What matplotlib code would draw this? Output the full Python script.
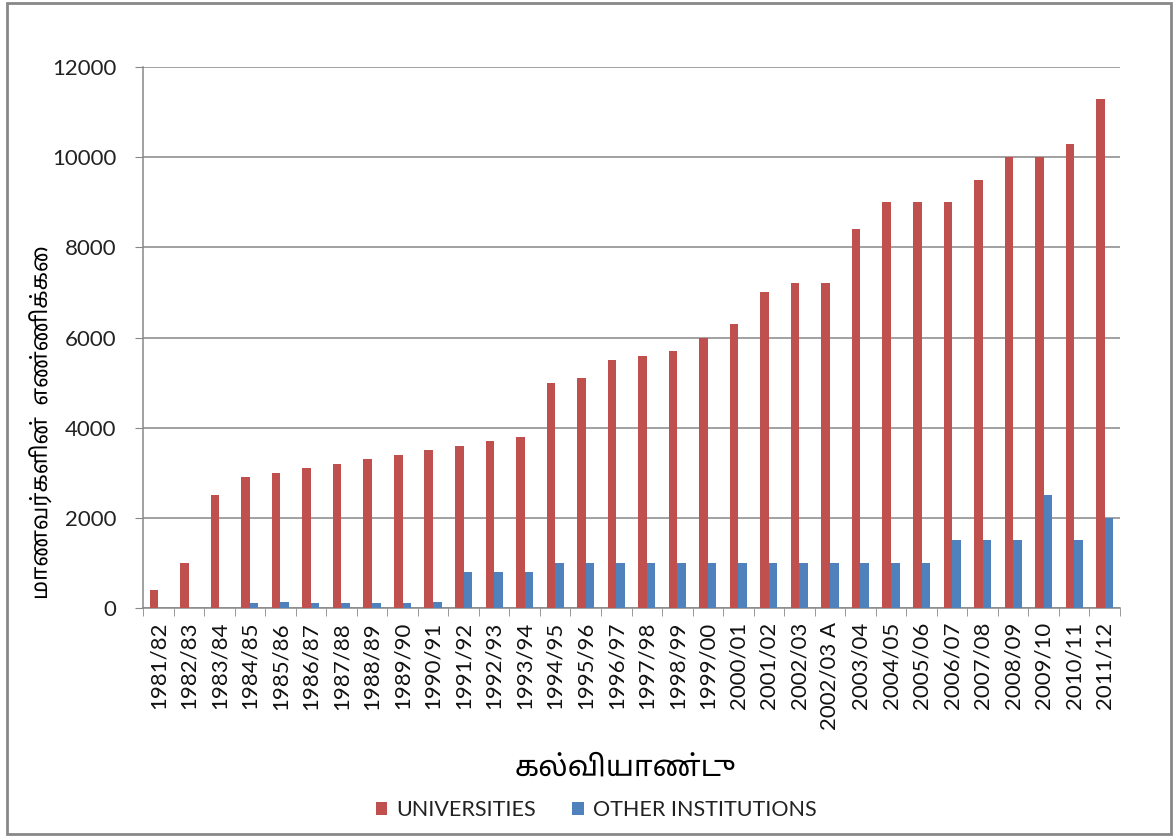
import matplotlib
matplotlib.use("Agg")
import matplotlib.pyplot as plt
from matplotlib.patches import Rectangle

years = ["1981/82", "1982/83", "1983/84", "1984/85", "1985/86", "1986/87", "1987/88",
         "1988/89", "1989/90", "1990/91", "1991/92", "1992/93", "1993/94", "1994/95",
         "1995/96", "1996/97", "1997/98", "1998/99", "1999/00", "2000/01", "2001/02",
         "2002/03", "2002/03 A", "2003/04", "2004/05", "2005/06", "2006/07", "2007/08",
         "2008/09", "2009/10", "2010/11", "2011/12"]
universities = [400, 1000, 2500, 2900, 3000, 3100, 3200, 3300, 3400, 3500, 3600, 3700,
                3800, 5000, 5100, 5500, 5600, 5700, 6000, 6300, 7000, 7200, 7200, 8400,
                9000, 9000, 9000, 9500, 10000, 10000, 10300, 11300]
other_institutions = [0, 0, 0, 100, 130, 100, 100, 100, 100, 130, 800, 800, 800, 1000,
                      1000, 1000, 1000, 1000, 1000, 1000, 1000, 1000, 1000, 1000, 1000,
                      1000, 1500, 1500, 1500, 2500, 1500, 2000]

RED = "#C0504D"
BLUE = "#4F81BD"
GRID = "#888888"
latin = ["Lato", "Noto Sans Tamil", "DejaVu Sans"]
tamil = ["Noto Sans Tamil", "DejaVu Sans"]

fig = plt.figure(figsize=(11.75, 8.36), dpi=100)
ax = fig.add_axes([143 / 1175, 1 - 608 / 836, (1120 - 143) / 1175, (608 - 67) / 836])

x = list(range(len(years)))
w = 0.28
ax.bar([i - w / 2 for i in x], universities, width=w, color=RED, label="UNIVERSITIES", zorder=3)
ax.bar([i + w / 2 for i in x], other_institutions, width=w, color=BLUE,
       label="OTHER INSTITUTIONS", zorder=3)

ax.set_xlim(-0.5, len(years) - 0.5)
ax.set_ylim(0, 12000)
ax.set_yticks(range(0, 12001, 2000))
ax.set_yticklabels([str(v) for v in range(0, 12001, 2000)], family=latin, fontsize=16, color="#222222")
ax.yaxis.grid(True, color=GRID, linewidth=1.1, zorder=0)
ax.tick_params(axis="y", length=6, color=GRID, pad=13)

ax.set_xticks(x)
ax.set_xticklabels(years, rotation=90, family=latin, fontsize=16, color="#111111")
ax.set_xticks([i - 0.5 for i in range(len(years) + 1)], minor=True)
ax.tick_params(axis="x", which="major", length=0, pad=10)
ax.tick_params(axis="x", which="minor", length=6, color=GRID)

for side in ["top", "right"]:
    ax.spines[side].set_visible(False)
for side in ["left", "bottom"]:
    ax.spines[side].set_color(GRID)
    ax.spines[side].set_linewidth(1.1)

fig.text(42 / 1175, 1 - 422 / 836, "மாணவர்களின்  எண்ணிக்கை", rotation=90,
         ha="center", va="center", family=tamil, fontsize=16)
fig.text(625 / 1175, 1 - 768 / 836, "கல்வியாண்டு", ha="center", va="center",
         family=tamil, fontsize=21)

fig.legend(loc="center", bbox_to_anchor=(596 / 1175, 1 - 810 / 836), ncol=2, frameon=False,
           prop={"family": latin, "size": 15.5}, handlelength=0.55, handleheight=0.55,
           handletextpad=0.4, columnspacing=1.7, labelcolor="#222222")

fig.patches.append(Rectangle((7 / 1175, 2 / 836), 1164 / 1175, 831 / 836, transform=fig.transFigure,
                             fill=False, edgecolor=GRID, linewidth=2))

fig.savefig("out.png", dpi=100)
